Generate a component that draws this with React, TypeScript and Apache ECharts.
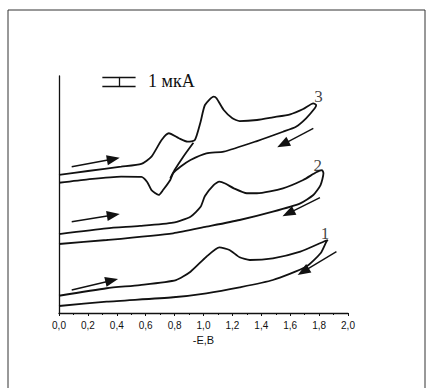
import React, { useEffect, useRef } from "react";
import * as echarts from "echarts";

// Potential -E, V (x) and current, µA (y, arbitrary offset)
const xTickLabels = ["0,0", "0,2", "0,4", "0,6", "0,8", "1,0", "1,2", "1,4", "1,6", "1,8", "2,0"];

const curve1: number[][] = [
  [0, 1.82], [0.33, 2.61], [0.56, 2.95], [0.81, 3.48], [0.91, 4.36], [1.02, 5.94], [1.11, 6.93],
  [1.18, 6.65], [1.25, 5.88], [1.32, 5.59], [1.48, 5.77], [1.67, 6.47], [1.83, 7.52], [1.86, 7.7],
  [1.85, 7.52], [1.81, 6.3], [1.71, 4.88], [1.48, 3.48], [1.25, 2.71], [1.02, 2.08], [0.79, 1.66],
  [0.33, 1.19], [0, 0.74],
];

const curve2: number[][] = [
  [0, 8.33], [0.33, 8.93], [0.56, 9.18], [0.79, 9.53], [0.91, 10.16], [0.98, 11.21], [1.01, 12.34],
  [1.07, 13.5], [1.11, 13.85], [1.15, 13.66], [1.21, 13.15], [1.3, 12.63], [1.37, 12.63], [1.55, 13.15],
  [1.69, 14.03], [1.78, 14.84], [1.82, 15.08],
  [1.83, 14.74], [1.81, 13.5], [1.76, 12.45], [1.67, 11.57], [1.48, 10.69], [1.25, 9.81], [1.02, 9.1],
  [0.79, 8.41], [0.33, 7.7], [0, 7.28],
];

const curve3: number[][] = [
  [0, 14.56], [0.2, 14.98], [0.43, 15.43], [0.57, 15.72], [0.64, 16.49], [0.71, 18.25], [0.76, 18.96],
  [0.83, 18.43], [0.89, 18.07], [0.94, 18.25], [0.98, 20.18], [1.01, 21.94], [1.07, 22.82], [1.09, 22.65],
  [1.14, 21.41], [1.2, 20.54], [1.25, 20.25], [1.37, 20.36], [1.48, 20.64], [1.6, 20.96], [1.69, 21.52],
  [1.76, 22.12], [1.78, 21.94],
  [1.77, 21.59], [1.71, 20.54], [1.64, 19.65], [1.55, 19.12], [1.37, 18.14], [1.14, 17.02], [1.02, 16.85],
  [0.91, 16.14], [0.84, 15.43], [0.79, 14.74], [0.77, 14.03], [0.72, 12.97], [0.69, 12.45], [0.64, 12.97],
  [0.61, 13.82], [0.57, 14.35], [0.43, 14.38], [0.2, 14.1], [0, 13.74],
];

const curve3Branch: number[][] = [
  [0.93, 17.96], [0.86, 16.49], [0.8, 15.08], [0.77, 14.21],
];

// scan-direction arrows: [start, tip]
const arrows: number[][][] = [
  [[0.088, 15.43], [0.376, 16.24]],
  [[1.76, 19.48], [1.55, 17.8]],
  [[0.088, 9.63], [0.376, 10.34]],
  [[1.806, 12.18], [1.587, 10.52]],
  [[0.088, 2.43], [0.365, 3.43]],
  [[1.92, 6.47], [1.69, 4.36]],
];

const curveLabels = [
  { name: "3", value: [1.795, 22.8] },
  { name: "2", value: [1.79, 15.6] },
  { name: "1", value: [1.84, 8.4] },
];

// 1 µA scale bar
const scaleBarX = [0.3, 0.53];
const scaleBarMid = 0.42;
const scaleBarY = [23.9, 24.9];
const scaleText = "1 мкА";
const xAxisName = "-E,B";

const INK = "#111";

export default function App() {
  const ref = useRef<HTMLDivElement>(null);

  useEffect(() => {
    if (!ref.current) return;
    const chart = echarts.init(ref.current, undefined, { renderer: "svg" });

    const lineBase = {
      type: "line" as const,
      showSymbol: false,
      smooth: 0.2,
      silent: true,
      lineStyle: { color: INK, width: 1.8 },
      itemStyle: { color: INK },
    };

    chart.setOption({
      animation: false,
      grid: { left: 59, right: 78, top: 76, bottom: 75 },
      xAxis: {
        type: "value",
        min: 0,
        max: 2,
        interval: 0.2,
        name: xAxisName,
        nameLocation: "middle",
        nameGap: 14,
        nameTextStyle: { color: INK, fontFamily: "Liberation Sans", fontSize: 11 },
        axisLine: { show: true, lineStyle: { color: INK, width: 1.3 } },
        axisTick: { show: true, length: 3, lineStyle: { color: INK } },
        minorTick: { show: true, splitNumber: 2, length: 2, lineStyle: { color: INK } },
        splitLine: { show: false },
        axisLabel: {
          color: INK,
          fontFamily: "Liberation Sans",
          fontSize: 10,
          margin: 7,
          formatter: (v: number) => xTickLabels[Math.round(v / 0.2)] ?? "",
        },
      },
      yAxis: {
        type: "value",
        min: 0,
        max: 25,
        axisLine: { show: true, onZero: false, lineStyle: { color: INK, width: 1.3 } },
        axisTick: { show: false },
        axisLabel: { show: false },
        splitLine: { show: false },
      },
      graphic: [
        {
          type: "rect",
          shape: { x: 8, y: 10, width: 417, height: 390 },
          style: { fill: "none", stroke: "#333", lineWidth: 1 },
          silent: true,
        },
        {
          type: "text",
          x: 148,
          y: 90,
          style: {
            text: scaleText,
            fontFamily: "Liberation Serif",
            fontSize: 18,
            fill: INK,
            textVerticalAlign: "bottom",
          },
        },
      ],
      series: [
        { ...lineBase, name: "1", data: curve1 },
        { ...lineBase, name: "2", data: curve2 },
        { ...lineBase, name: "3", data: curve3 },
        { ...lineBase, name: "3b", data: curve3Branch },
        {
          type: "line",
          name: "arrows",
          data: [arrows[0][0]],
          showSymbol: false,
          silent: true,
          lineStyle: { color: INK, width: 1.3 },
          markLine: {
            silent: true,
            symbol: ["none", "triangle"],
            symbolSize: [10, 13],
            label: { show: false },
            lineStyle: { color: INK, width: 1.4, type: "solid" },
            itemStyle: { color: INK },
            data: arrows.map((a) => [{ coord: a[0] }, { coord: a[1] }]),
          },
        },
        {
          type: "line",
          name: "scale",
          data: [[scaleBarX[0], scaleBarY[1]]],
          showSymbol: false,
          silent: true,
          markLine: {
            silent: true,
            symbol: ["none", "none"],
            label: { show: false },
            lineStyle: { color: INK, width: 1.3, type: "solid" },
            data: [
              [{ coord: [scaleBarX[0], scaleBarY[1]] }, { coord: [scaleBarX[1], scaleBarY[1]] }],
              [{ coord: [scaleBarX[0], scaleBarY[0]] }, { coord: [scaleBarX[1], scaleBarY[0]] }],
              [{ coord: [scaleBarMid, scaleBarY[0]] }, { coord: [scaleBarMid, scaleBarY[1]] }],
            ],
          },
        },
        {
          type: "scatter",
          name: "labels",
          symbolSize: 1,
          silent: true,
          itemStyle: { color: "rgba(0,0,0,0)" },
          label: {
            show: true,
            position: "inside",
            formatter: (p: any) => p.name,
            fontFamily: "Liberation Serif",
            fontSize: 17,
            color: INK,
          },
          data: curveLabels,
        },
      ],
    });

    return () => chart.dispose();
  }, []);

  return (
    <div
      ref={ref}
      style={{ position: "absolute", left: 0, top: 0, width: 426, height: 388, background: "#fff" }}
    />
  );
}
